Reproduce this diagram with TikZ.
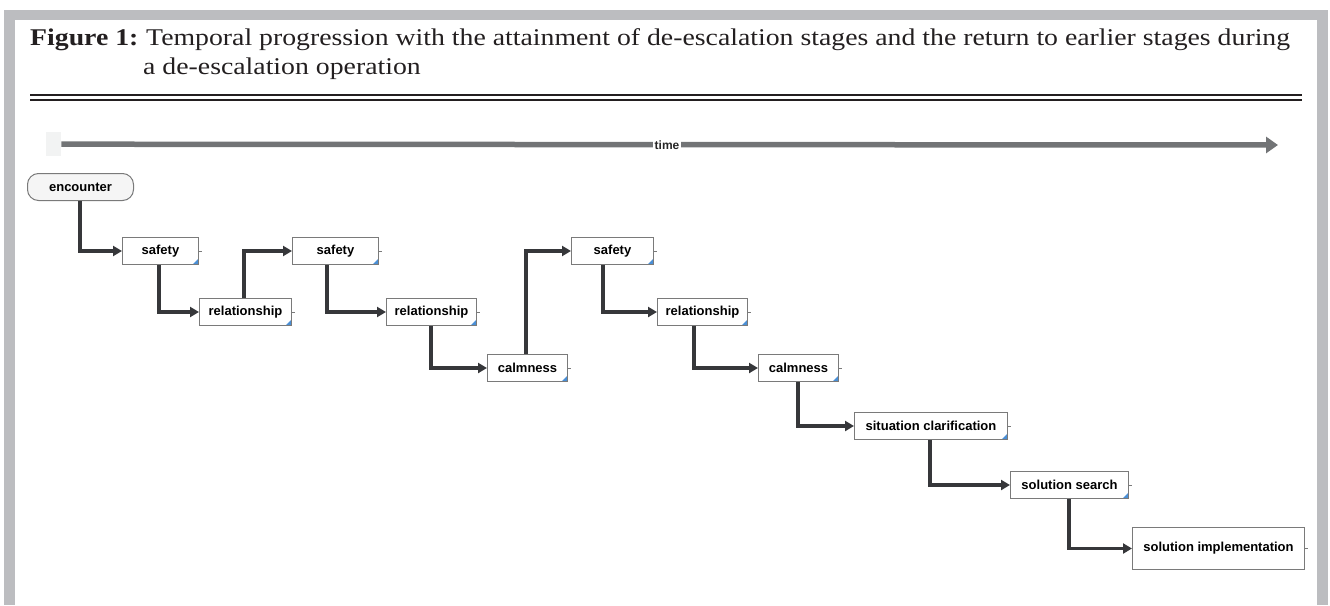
\documentclass[tikz,border=0pt]{standalone}
\usepackage{fontspec}
\setmainfont{Liberation Serif}
\setsansfont{Liberation Sans}
\newfontfamily\titlefont[FakeStretch=1.157]{Liberation Serif}
\usetikzlibrary{arrows.meta,calc}
\definecolor{framegray}{HTML}{BCBDC0}
\definecolor{timegray}{HTML}{727476}
\definecolor{conncol}{HTML}{36373A}
\definecolor{boxline}{HTML}{7A7A7A}
\definecolor{cornerblue}{HTML}{4A8FD6}
\definecolor{titlecol}{HTML}{231F20}
\definecolor{sqgray}{HTML}{F2F3F3}
\begin{document}
\begin{tikzpicture}[x=1pt,y=-1pt,
  stage/.style={draw=boxline, line width=1pt, fill=white, anchor=north west, inner sep=0pt,
    minimum height=27pt, font=\sffamily\bfseries\fontsize{13}{15}\selectfont, text=black},
  corner/.style={path picture={\fill[cornerblue] (path picture bounding box.south east) -- ++(-6pt,0pt) -- ++(6pt,6pt) -- cycle;}},
  conn/.style={draw=conncol, line width=3.3pt, -{Triangle[length=9pt,width=10pt]}},
  tick/.style={draw=boxline, line width=1pt},
  titletext/.style={anchor=base west, inner sep=0pt, text=titlecol, font=\titlefont\fontsize{24}{28}\selectfont}]
\useasboundingbox (0,0) rectangle (1330,605);
% frame
\fill[framegray] (4,10) rectangle (1328,20);
\fill[framegray] (4,10) rectangle (15,605);
\fill[framegray] (1317,10) rectangle (1328,605);
% title
\node[titletext] (fig) at (30,45) {\textbf{Figure 1:}};
\node[titletext] (t1) at (146,45) {Temporal progression with the attainment of de-escalation stages and the return to earlier stages during};
\node[titletext] (t2) at (143,74) {a de-escalation operation};
\draw[titlecol, line width=2.2pt] (30,95) -- (1302,95);
\draw[titlecol, line width=2pt] (30,99.5) -- (1302,99.5);
% time arrow
\node[fill=sqgray, anchor=north west, minimum width=15pt, minimum height=24pt, inner sep=0pt] (tsq) at (46,132) {};
\coordinate (tend) at (1278,145);
\draw[timegray, line width=5.5pt, -{Triangle[length=12pt,width=16pt]}] (tsq.east) -- (tend);
\node[fill=white, inner sep=1.5pt, font=\sffamily\bfseries\fontsize{12}{14}\selectfont, text=black!85] (time) at (667,145) {time};
% stages
\node[stage, corner, rounded corners=11pt, fill=black!4, minimum width=106pt] (enc) at (27,173) {encounter};
\node[stage, corner, minimum width=76pt] (s1) at (122,237) {safety};
\node[stage, corner, minimum width=92pt] (r1) at (199,298) {relationship};
\node[stage, corner, minimum width=86pt] (s2) at (292,237) {safety};
\node[stage, corner, minimum width=90pt] (r2) at (386,298) {relationship};
\node[stage, corner, minimum width=80pt] (c1) at (487,354) {calmness};
\node[stage, corner, minimum width=82pt] (s3) at (571,237) {safety};
\node[stage, corner, minimum width=90pt] (r3) at (657,298) {relationship};
\node[stage, corner, minimum width=80pt] (c2) at (758,354) {calmness};
\node[stage, corner, minimum width=153pt] (sc) at (854,412) {situation clarification};
\node[stage, corner, minimum width=118pt] (ss) at (1010,471) {solution search};
\node[stage, minimum width=172pt, minimum height=42pt] (si) at (1132,527) {solution implementation};
% ticks
\foreach \n in {s1,r1,s2,r2,c1,s3,r3,c2,sc,ss,si}
  \draw[tick] (\n.east) -- ++(2.5,0);
% connectors
\draw[conn] ($(enc.south west)+(53,0)$) |- (s1.west);
\draw[conn] ($(s1.south west)+(37,0)$) |- (r1.west);
\draw[conn] ($(r1.north west)+(45,0)$) |- (s2.west);
\draw[conn] ($(s2.south west)+(35,0)$) |- (r2.west);
\draw[conn] ($(r2.south west)+(45,0)$) |- (c1.west);
\draw[conn] ($(c1.north west)+(39,0)$) |- (s3.west);
\draw[conn] ($(s3.south west)+(32,0)$) |- (r3.west);
\draw[conn] ($(r3.south west)+(37,0)$) |- (c2.west);
\draw[conn] ($(c2.south west)+(40,0)$) |- (sc.west);
\draw[conn] ($(sc.south west)+(76,0)$) |- (ss.west);
\draw[conn] ($(ss.south west)+(59,0)$) |- (si.west);
\end{tikzpicture}
\end{document}
